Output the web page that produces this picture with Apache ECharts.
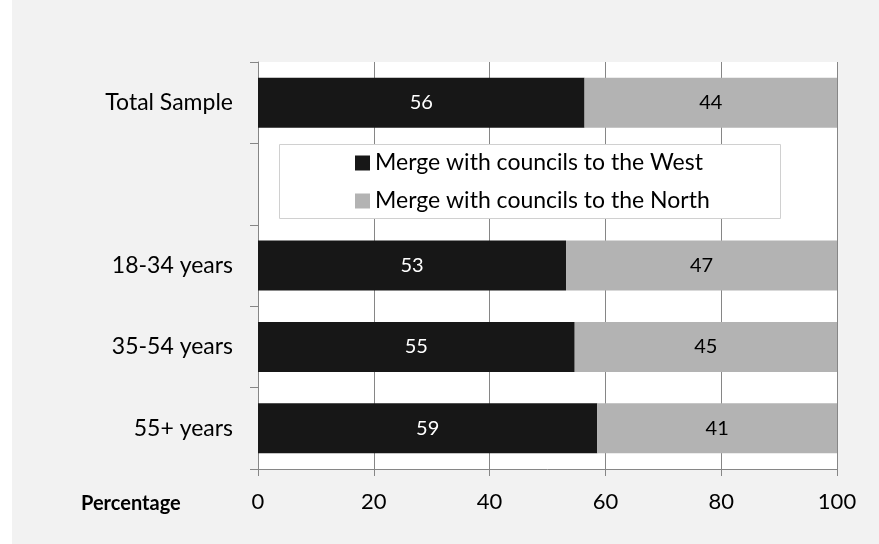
<!DOCTYPE html>
<html>
<head>
<meta charset="utf-8">
<script src="https://cdn.jsdelivr.net/npm/echarts@6/dist/echarts.min.js"></script>
<style>
html,body{margin:0;padding:0;background:#fff;}
#chart{width:879px;height:544px;}
</style>
</head>
<body>
<div id="chart"></div>
<script>
var categories = ['Total Sample', '', '18-34 years', '35-54 years', '55+ years'];
var westValues = [56.4, null, 53.2, 54.7, 58.6];
var northValues = [43.6, null, 46.8, 45.3, 41.4];
var seriesNames = ['Merge with councils to the West', 'Merge with councils to the North'];
var xTicks = [0, 20, 40, 60, 80, 100];
var axisTitle = 'Percentage';

var FONT = 'Lato';
var chart = echarts.init(document.getElementById('chart'), null, {renderer: 'canvas'});
var option = {
  backgroundColor: '#ffffff',
  animation: false,
  textStyle: {fontFamily: FONT},
  graphic: [
    {type: 'rect', z: -10, silent: true, shape: {x: 12, y: 0, width: 867, height: 544}, style: {fill: '#f2f2f2'}},
    {type: 'rect', z: 3, silent: true, shape: {x: 279.5, y: 144.5, width: 501, height: 74}, style: {fill: '#ffffff', stroke: '#d0d0d0', lineWidth: 1}},
    {type: 'text', z: 5, left: 81, top: 494, style: {text: axisTitle, font: 'bold 20px ' + FONT, fill: '#000'}}
  ],
  legend: {
    orient: 'vertical',
    left: 355,
    top: 150,
    padding: 0,
    z: 5,
    itemWidth: 15,
    itemHeight: 15,
    itemGap: 12,
    icon: 'rect',
    textStyle: {fontSize: 23, color: '#000', lineHeight: 26, fontFamily: FONT},
    data: seriesNames
  },
  grid: {left: 258, right: 42, top: 62, bottom: 75, show: true, backgroundColor: '#ffffff', borderWidth: 0, containLabel: false},
  xAxis: {
    type: 'value',
    min: xTicks[0],
    max: xTicks[xTicks.length - 1],
    interval: 20,
    axisLine: {show: true, lineStyle: {color: '#868686', width: 1}},
    axisTick: {show: true, length: 7, lineStyle: {color: '#868686'}},
    splitLine: {show: true, lineStyle: {color: '#868686', width: 1}},
    axisLabel: {fontSize: 22, color: '#000', margin: 22, fontFamily: FONT}
  },
  yAxis: {
    type: 'category',
    inverse: true,
    data: categories,
    axisLine: {show: true, lineStyle: {color: '#868686', width: 1}},
    axisTick: {show: true, length: 8, alignWithLabel: false, lineStyle: {color: '#868686'}},
    axisLabel: {fontSize: 23, color: '#000', margin: 25, fontFamily: FONT}
  },
  series: [
    {
      name: seriesNames[0], type: 'bar', stack: 's', barWidth: 50,
      itemStyle: {color: '#171717'},
      label: {show: true, position: 'inside', color: '#fff', fontSize: 20, fontFamily: FONT,
        formatter: function (p) { return Math.round(p.value); }},
      data: westValues
    },
    {
      name: seriesNames[1], type: 'bar', stack: 's', barWidth: 50,
      itemStyle: {color: '#b3b3b3'},
      label: {show: true, position: 'inside', color: '#000', fontSize: 20, fontFamily: FONT,
        formatter: function (p) { return Math.round(p.value); }},
      data: northValues
    }
  ]
};
chart.setOption(option);
</script>
</body>
</html>
